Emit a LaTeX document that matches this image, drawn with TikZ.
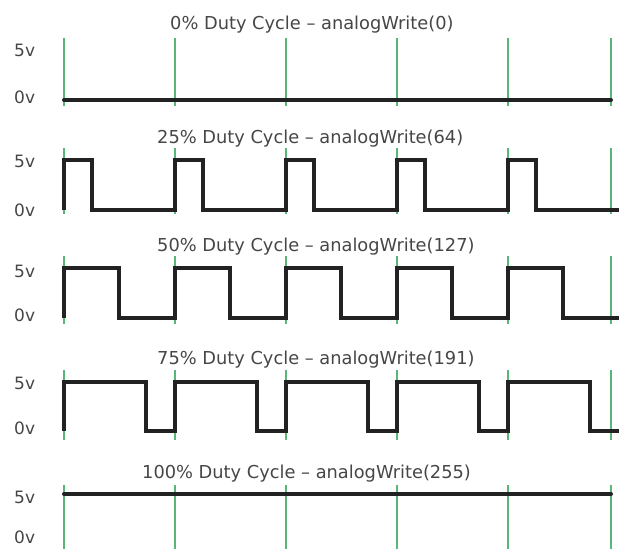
\documentclass[tikz,border=0pt]{standalone}
\usepackage{fontspec}
\setmainfont{DejaVu Sans}
\definecolor{tickgreen}{RGB}{88,182,120}
\definecolor{wavegray}{RGB}{34,34,34}
\definecolor{labelgray}{RGB}{70,70,70}
\begin{document}
\begin{tikzpicture}[x=1pt,y=-1pt,
  wave/.style={line width=4pt, draw=wavegray, line join=miter},
  gridline/.style={line width=1.8pt, draw=tickgreen},
  title/.style={font=\fontsize{17.8}{20}\selectfont, text=labelgray, anchor=base west, inner sep=0pt},
  level/.style={font=\fontsize{17}{20}\selectfont, text=labelgray, anchor=base west, inner sep=0pt}]
\useasboundingbox (0,0) rectangle (619,549);

% period markers: one set per row (top, bottom)
\foreach \gt/\gb in {38/106, 148/214, 256/324, 370/440, 485/549}
  \foreach \x in {64,175,286,397,508,611}
    \draw[gridline] (\x,\gt) -- (\x,\gb);

% 0% duty cycle
\draw[wave, line cap=round] (64,100) -- (611,100);
% 25% duty cycle
\draw[wave] (64,210) \foreach \x in {64,175,286,397,508}
  { -- (\x,210) -- (\x,160) -- ({\x+28},160) -- ({\x+28},210) } -- (619,210);
% 50% duty cycle
\draw[wave] (64,318) \foreach \x in {64,175,286,397,508}
  { -- (\x,318) -- (\x,268) -- ({\x+55},268) -- ({\x+55},318) } -- (619,318);
% 75% duty cycle
\draw[wave] (64,431) \foreach \x in {64,175,286,397,508}
  { -- (\x,431) -- (\x,382) -- ({\x+82},382) -- ({\x+82},431) } -- (619,431);
% 100% duty cycle
\draw[wave, line cap=round] (64,494) -- (611,494);

% titles
\node[title] (t0)   at (170,29)  {0\% Duty Cycle – analogWrite(0)};
\node[title] (t25)  at (157,143) {25\% Duty Cycle – analogWrite(64)};
\node[title] (t50)  at (157,251) {50\% Duty Cycle – analogWrite(127)};
\node[title] (t75)  at (157,364) {75\% Duty Cycle – analogWrite(191)};
\node[title] (t100) at (142,478) {100\% Duty Cycle – analogWrite(255)};

% voltage levels
\node[level] (h0)   at (14,56)  {5v};
\node[level] (l0)   at (14,103) {0v};
\node[level] (h25)  at (14,167) {5v};
\node[level] (l25)  at (14,216) {0v};
\node[level] (h50)  at (14,277) {5v};
\node[level] (l50)  at (14,321) {0v};
\node[level] (h75)  at (14,389) {5v};
\node[level] (l75)  at (14,434) {0v};
\node[level] (h100) at (14,503) {5v};
\node[level] (l100) at (14,543) {0v};
\end{tikzpicture}
\end{document}
